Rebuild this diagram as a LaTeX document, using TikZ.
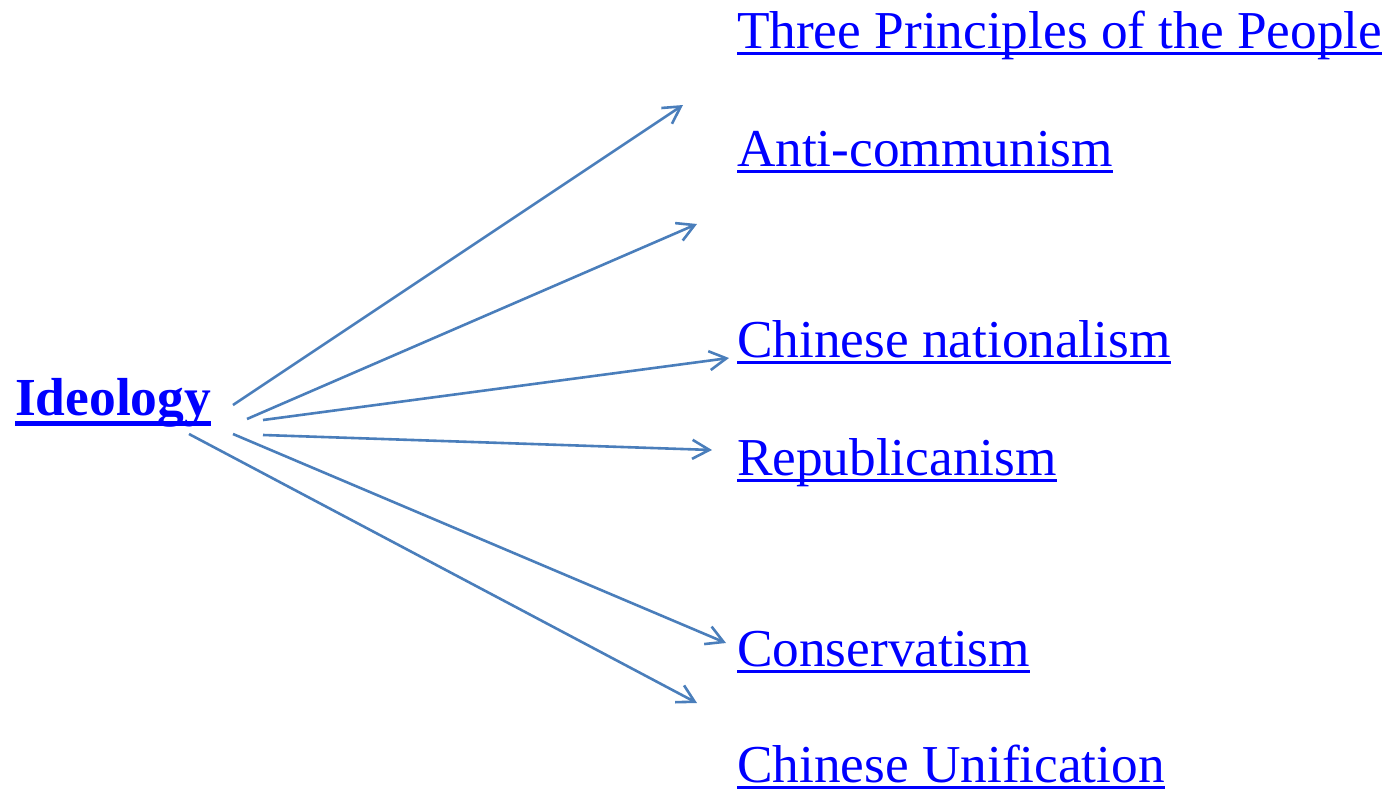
\documentclass[tikz,border=0pt]{standalone}
\usepackage{fontspec}
\setmainfont{Liberation Serif}
\usetikzlibrary{arrows.meta}
\definecolor{linkblue}{RGB}{0,0,255}
\definecolor{arrowblue}{RGB}{74,126,187}
\newcommand\ulreg[1]{\setbox0\hbox{#1}\rlap{\rule[-6.8pt]{\wd0}{3pt}}\box0}
\newcommand\ulbold[1]{\setbox0\hbox{#1}\rlap{\rule[-11pt]{\wd0}{5pt}}\box0}
\begin{document}
\begin{tikzpicture}[x=1pt,y=-1pt,
  lbl/.style={anchor=base west,inner sep=0pt,outer sep=0pt,text=linkblue,font=\fontsize{53.3}{60}\selectfont},
  conn/.style={draw=arrowblue,line width=2.6pt,-{Straight Barb[length=17pt,width=19pt,line width=2.6pt]}}]
\useasboundingbox (0,0) rectangle (1390,790);
\node[lbl,font=\fontsize{53.5}{60}\selectfont\bfseries] (ideo) at (15,415) {\ulbold{Ideology}};
\node[lbl] (tpp) at (737,48) {\ulreg{Three Principles of the People}};
\node[lbl] (anti) at (737,166) {\ulreg{Anti-communism}};
\node[lbl] (nat) at (737,357) {\ulreg{Chinese nationalism}};
\node[lbl] (rep) at (737,475) {\ulreg{Republicanism}};
\node[lbl] (cons) at (737,666) {\ulreg{Conservatism}};
\node[lbl] (unif) at (737,782) {\ulreg{Chinese Unification}};
% arrow start points near Ideology
\coordinate (s1) at (233,405);
\coordinate (s2) at (247,419);
\coordinate (s3) at (263,420);
\coordinate (s4) at (263,435);
\coordinate (s5) at (233,434);
\coordinate (s6) at (189,434);
% arrow end points
\coordinate (e1) at (683,105);
\coordinate (e2) at (697,224);
\coordinate (e3) at (729,358);
\coordinate (e4) at (712,450);
\coordinate (e5) at (726,643);
\coordinate (e6) at (697,703);
\draw[conn] (s1) -- (e1);
\draw[conn] (s2) -- (e2);
\draw[conn] (s3) -- (e3);
\draw[conn] (s4) -- (e4);
\draw[conn] (s5) -- (e5);
\draw[conn] (s6) -- (e6);
\end{tikzpicture}
\end{document}
